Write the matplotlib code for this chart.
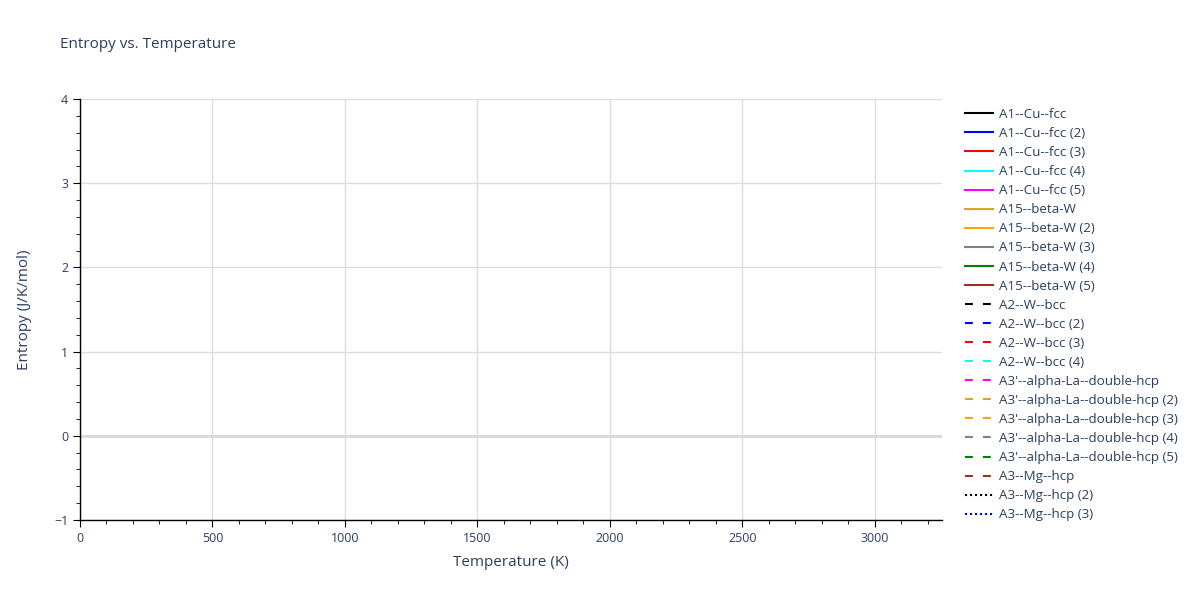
import matplotlib
matplotlib.use("Agg")
import matplotlib.pyplot as plt
from matplotlib.ticker import MultipleLocator

plt.rcParams['font.family'] = ['Open Sans', 'DejaVu Sans']

# series shown in the legend (the traces carry no visible points)
names = ["A1--Cu--fcc", "A1--Cu--fcc (2)", "A1--Cu--fcc (3)", "A1--Cu--fcc (4)", "A1--Cu--fcc (5)",
         "A15--beta-W", "A15--beta-W (2)", "A15--beta-W (3)", "A15--beta-W (4)", "A15--beta-W (5)",
         "A2--W--bcc", "A2--W--bcc (2)", "A2--W--bcc (3)", "A2--W--bcc (4)",
         "A3'--alpha-La--double-hcp", "A3'--alpha-La--double-hcp (2)", "A3'--alpha-La--double-hcp (3)",
         "A3'--alpha-La--double-hcp (4)", "A3'--alpha-La--double-hcp (5)",
         "A3--Mg--hcp", "A3--Mg--hcp (2)", "A3--Mg--hcp (3)"]
temperature = [[] for _ in names]
entropy = [[] for _ in names]

palette = ["black", "blue", "red", "cyan", "magenta", "goldenrod", "orange", "gray", "green", "brown"]
styles = ["solid"] * 10 + ["dash"] * 10 + ["dot"] * 2

txt = "#2a3f5f"
fig = plt.figure(figsize=(12, 6), dpi=100)
ax = fig.add_axes([80 / 1200, 80 / 600, 862 / 1200, 421 / 600])

for i, name in enumerate(names):
    c = palette[i % len(palette)]
    line, = ax.plot(temperature[i], entropy[i], color=c, lw=1.5, label=name)
    if styles[i] == "dash":
        line.set_dashes((3.8, 4.8))
    elif styles[i] == "dot":
        line.set_dashes((1.0, 1.4))

ax.set_xlim(0, 3253)
ax.set_ylim(-1, 4)
ax.xaxis.set_major_locator(MultipleLocator(500))
ax.xaxis.set_minor_locator(MultipleLocator(100))
ax.yaxis.set_major_locator(MultipleLocator(1))
ax.yaxis.set_minor_locator(MultipleLocator(0.2))
ax.grid(which="major", color="#dddddd", lw=1)
ax.axhline(0, color="#cccccc", lw=1.8, zorder=0.5)
ax.set_axisbelow(True)
for s in ["top", "right"]:
    ax.spines[s].set_visible(False)
for s in ["left", "bottom"]:
    ax.spines[s].set_color("black")
    ax.spines[s].set_linewidth(1)
ax.tick_params(which="major", direction="out", length=5, color="black", labelcolor=txt, labelsize=9)
ax.tick_params(which="minor", direction="out", length=3, color="black")

fig.text(60 / 1200, 1 - 45 / 600, "Entropy vs. Temperature", color=txt, fontsize=11, va="center")
fig.text(511 / 1200, 1 - 563 / 600, "Temperature (K)", color=txt, fontsize=11, ha="center", va="center")
fig.text(25 / 1200, 1 - 310 / 600, "Entropy (J/K/mol)", color=txt, fontsize=11, ha="center", va="center",
         rotation=90)

leg = ax.legend(loc="upper left", bbox_to_anchor=(965 / 1200, 1 - 108 / 600), bbox_transform=fig.transFigure,
                frameon=False, fontsize=9.6, handlelength=2.1, handletextpad=0.45, labelspacing=0.455,
                borderaxespad=0, borderpad=0)
for t in leg.get_texts():
    t.set_color(txt)

fig.savefig("out.png", dpi=100)
